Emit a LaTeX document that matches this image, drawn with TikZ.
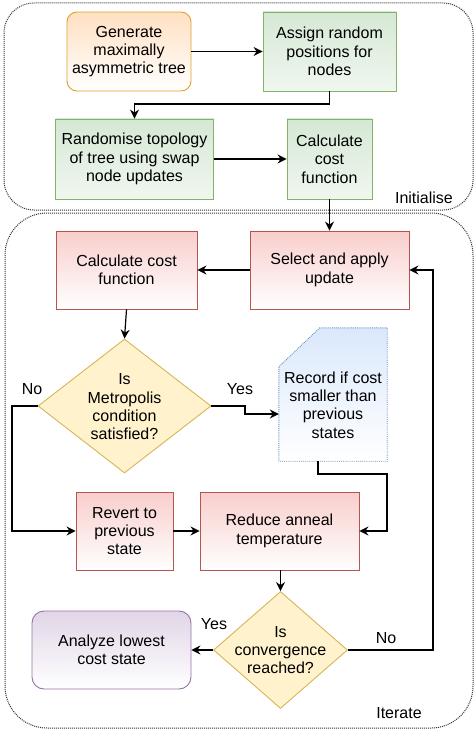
\documentclass[tikz,border=0pt]{standalone}
\usepackage{fontspec}
\setmainfont{Liberation Sans}
\usetikzlibrary{shapes.geometric,arrows.meta,calc}
\definecolor{orgF}{HTML}{FFE0C2}\definecolor{orgD}{HTML}{E0A030}
\definecolor{grnF}{HTML}{D5E8D4}\definecolor{grnD}{HTML}{82B366}
\definecolor{redF}{HTML}{F8CECC}\definecolor{redD}{HTML}{B85450}
\definecolor{yelF}{HTML}{FFF2CC}\definecolor{yelD}{HTML}{D6B656}
\definecolor{bluF}{HTML}{DAE8FC}\definecolor{bluD}{HTML}{6C8EBF}
\definecolor{purF}{HTML}{E1D5E7}\definecolor{purD}{HTML}{9673A6}
\begin{document}
\begin{tikzpicture}[x=1pt,y=-1pt,
  font=\fontsize{16}{18.3}\selectfont,
  box/.style={rectangle,draw,line width=0.9pt,inner sep=0pt,align=center},
  orgbox/.style={box,rounded corners=10pt,draw=orgD,top color=orgF,bottom color=white},
  grnbox/.style={box,draw=grnD,top color=grnF,bottom color=grnF!35!white},
  redbox/.style={box,draw=redD,top color=redF,bottom color=white},
  purbox/.style={box,rounded corners=12pt,draw=purD,top color=purF,bottom color=white},
  dia/.style={diamond,draw=yelD,line width=0.9pt,fill=yelF,inner sep=0pt},
  container/.style={draw=black!80,densely dotted,line width=1pt},
  conn/.style={line width=1.2pt,-{Stealth[length=9pt,width=9pt,inset=3pt]}},
  lbl/.style={inner sep=0pt,align=center}]
\useasboundingbox (0,0) rectangle (474,733);
% containers
\draw[container,rounded corners=30pt] (4,3) rectangle (473,210);
\draw[container,rounded corners=42pt] (5,213) rectangle (473,728);
\node[lbl] (initlbl) at (424,198) {Initialise};
\node[lbl] (iterlbl) at (399,713) {Iterate};
% initialise
\node[orgbox,minimum width=124pt,minimum height=79pt] (gen) at (129,51.5) {Generate\\maximally\\asymmetric tree};
\node[grnbox,minimum width=133pt,minimum height=79pt] (assign) at (329.5,51.5) {Assign random\\positions for\\nodes};
\node[grnbox,minimum width=158pt,minimum height=80pt] (rand) at (134.5,159) {Randomise topology\\of tree using swap\\node updates};
\node[grnbox,minimum width=85pt,minimum height=80pt] (calci) at (329.5,159) {Calculate\\cost\\function};
% iterate
\node[redbox,minimum width=159pt,minimum height=78pt] (select) at (329.5,270) {Select and apply\\update};
\node[redbox,minimum width=141pt,minimum height=78pt] (calc) at (126.5,270) {Calculate cost\\function};
\node[dia,minimum width=173pt,minimum height=134pt] (metro) at (124.5,406) {};
\node[lbl] (metrotxt) at (124.5,407) {Is\\Metropolis\\condition\\satisfied?};
\node[inner sep=0pt,minimum width=108pt,minimum height=133pt] (rec) at (333,394.5) {};
\shade[top color=bluF,bottom color=white] (rec.south west) -- ($(rec.north west)+(0,39)$) -- ($(rec.north west)+(41,0)$) -- (rec.north east) -- (rec.south east) -- cycle;
\draw[draw=bluD,densely dotted,line width=0.9pt] (rec.south west) -- ($(rec.north west)+(0,39)$) -- ($(rec.north west)+(41,0)$) -- (rec.north east) -- (rec.south east) -- cycle;
\node[lbl] (rectxt) at (333,405) {Record if cost\\smaller than\\previous\\states};
\node[redbox,minimum width=97pt,minimum height=78pt] (revert) at (124.5,531) {Revert to\\previous\\state};
\node[redbox,minimum width=159pt,minimum height=78pt] (reduce) at (279.5,531) {Reduce anneal\\temperature};
\node[dia,minimum width=134pt,minimum height=117pt] (conv) at (280.5,650) {};
\node[lbl] (convtxt) at (280.5,650) {Is\\convergence\\reached?};
\node[purbox,minimum width=159pt,minimum height=78pt] (anal) at (111.5,650) {Analyze lowest\\cost state};
% labels
\node[lbl] (no1) at (32,389) {No};
\node[lbl] (yes1) at (240,389) {Yes};
\node[lbl] (yes2) at (214,624) {Yes};
\node[lbl] (no2) at (386,638) {No};
% connectors
\draw[conn] (gen.east) -- (gen.east -| assign.west);
\draw[conn] (assign.south) -- (assign.south |- 0,104) -| (rand.north);
\draw[conn] (rand.east) -- (rand.east -| calci.west);
\draw[conn] (calci.south) -- (select.north);
\draw[conn] (select.west) -- (select.west -| calc.east);
\draw[conn] (calc.south) -- (metro.north);
\coordinate (yk) at (245,406);
\draw[conn] (metro.east) -- (yk) -- (yk |- 0,414) -- (rec.west |- 0,414);
\coordinate (nk) at (12,406);
\draw[conn] (metro.west) -- (nk) |- (revert.west);
\draw[conn] (revert.east) -- (reduce.west);
\coordinate (rk) at (318,461);
\draw[conn] (rk) -- (318,474) -- (387,474) |- (reduce.east);
\draw[conn] (reduce.south -| conv.north) -- (conv.north);
\draw[conn] (conv.west) -- (anal.east);
\coordinate (ck) at (433,650);
\draw[conn] (conv.east) -- (ck) |- (select.east);
\end{tikzpicture}
\end{document}
